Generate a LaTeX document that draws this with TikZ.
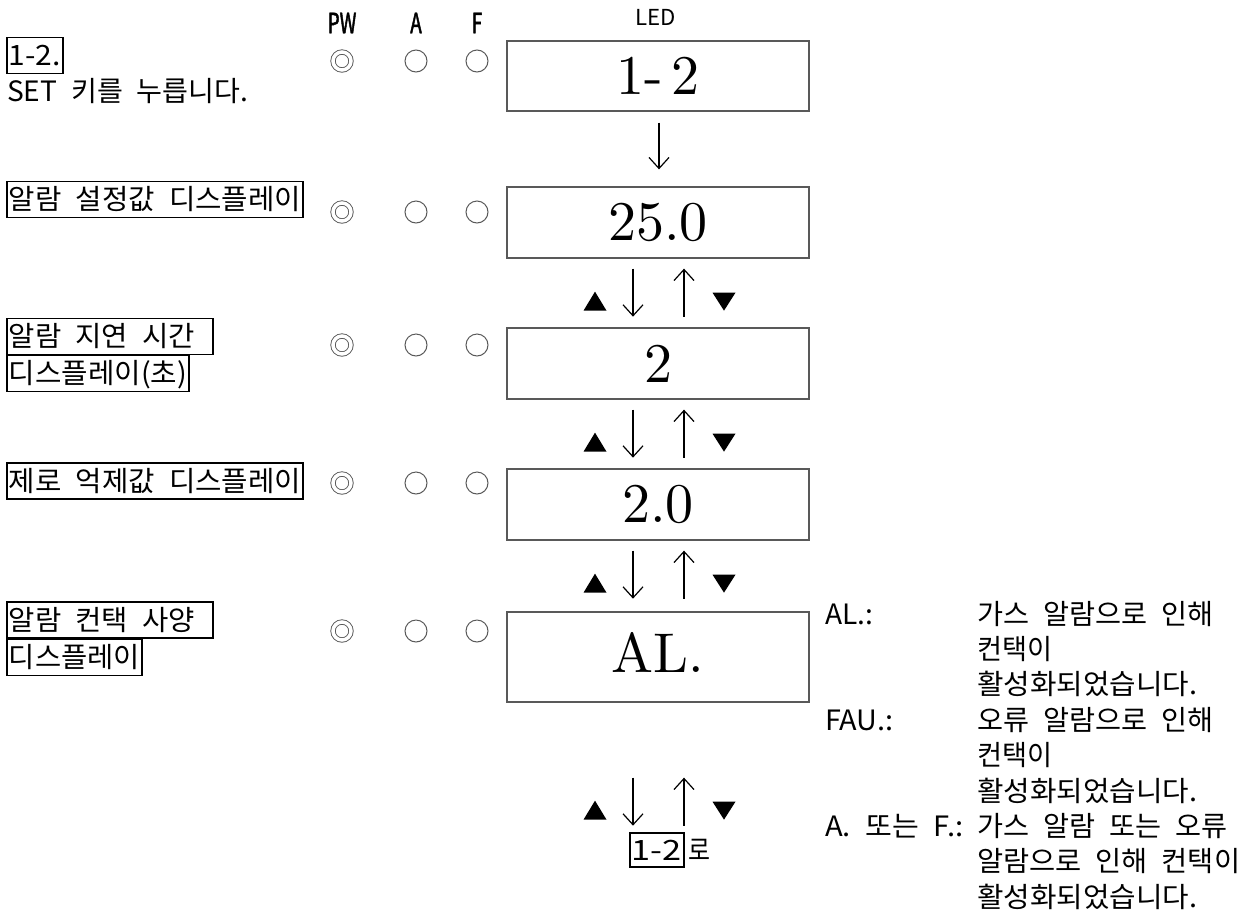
\documentclass[tikz,border=0pt]{standalone}
\usepackage{fontspec}
\usepackage{graphicx}
\usetikzlibrary{arrows.meta,calc}
\newfontfamily\krf[WordSpace=2.2]{Noto Sans CJK KR}
\newfontfamily\hdrf[FakeStretch=0.68,FakeBold=1.5]{Noto Sans CJK KR}
\newfontfamily\ledf[FakeStretch=1.01]{Noto Sans CJK KR}
\newfontfamily\lmten{lmroman10-regular.otf}
\newcommand\fitto[2]{\resizebox{#1pt}{\height}{#2}}
\newcommand\ArrPair[2]{%
  \coordinate (#1-a) at ($(#1.south)+(0,#2)$);
  \draw[arr] ($(#1-a)+(-25,0)$) -- ($(#1-a)+(-25,48)$);
  \draw[arr] ($(#1-a)+(26,48)$) -- ($(#1-a)+(26,0)$);
  \fill ($(#1-a)+(-74.5,42)$) -- ($(#1-a)+(-51.5,42)$) -- ($(#1-a)+(-63,23)$) -- cycle;
  \fill ($(#1-a)+(54.5,24)$) -- ($(#1-a)+(77.5,24)$) -- ($(#1-a)+(66,42)$) -- cycle;
}
\begin{document}
\begin{tikzpicture}[x=1pt,y=-1pt,
  txt/.style={font=\krf\fontsize{28}{35}\selectfont, inner sep=0pt, anchor=west, text height=24pt, text depth=4pt},
  lbl/.style={txt, draw=black, line width=1.8pt, inner xsep=2pt, inner ysep=3pt, minimum height=36pt},
  led/.style={draw=black!65, line width=1.3pt, minimum width=302pt, inner sep=0pt, font=\lmten\fontsize{56}{60}\selectfont},
  pwc/.style={circle, draw=black!65, line width=0.9pt, double, double distance=3.5pt, minimum size=18pt, inner sep=0pt},
  lmp/.style={circle, draw=black!65, line width=1pt, minimum size=22pt, inner sep=0pt},
  hdr/.style={font=\hdrf\fontsize{28}{30}\selectfont, inner sep=0pt},
  arr/.style={line width=1.2pt, -{Straight Barb[length=11pt,width=20pt,line width=1.2pt]}},
]
\useasboundingbox (0,0) rectangle (1253,911);

% header
\node[hdr] (hpw) at (342,23) {PW};
\node[hdr] (ha) at (416,23) {A};
\node[hdr] (hf) at (477,23) {F};
\node[font=\ledf\fontsize{22}{24}\selectfont, inner sep=0pt] (hled) at (656,17) {LED};

% LED boxes
\node[led, minimum height=70pt] (b1) at (658,76) {{\spaceskip=0.15em 1- 2}};
\node[led, minimum height=71pt] (b2) at (658,222.5) {25.0};
\node[led, minimum height=71pt] (b3) at (658,363.5) {2};
\node[led, minimum height=71pt] (b4) at (658,504.5) {2.0};
\node[led, minimum height=90pt] (b5) at (658,657) {\raisebox{10pt}{AL.}};

% arrows
\draw[arr] ($(b1.south)+(1,11)$) -- ($(b2.north)+(1,-17)$);
\ArrPair{b2}{10}
\ArrPair{b3}{10}
\ArrPair{b4}{10}
\ArrPair{b5}{75}

% lamps
\foreach \r/\yy in {1/61,2/212,3/345,4/483,5/631}{
  \node[pwc] (pw\r) at (342,\yy) {};
  \node[lmp] (a\r) at (416,\yy) {};
  \node[lmp] (f\r) at (477,\yy) {};
}

% left labels
\node[lbl] (l1) at (6,55.5) {\fitto{52}{1-2.}};
\node[txt] (s1) at (7,91) {\fitto{241}{SET 키를 누릅니다.}};
\node[lbl] (l2) at (6,199.5) {\fitto{292}{알람 설정값 디스플레이}};
\node[lbl] (l3a) at (6,336.5) {\fitto{186}{알람 지연 시간}\kern16pt\relax};
\node[lbl] (l3b) at (6,373.5) {\fitto{178}{디스플레이(초)}};
\node[lbl] (l4) at (6,481) {\fitto{292}{제로 억제값 디스플레이}};
\node[lbl] (l5a) at (6,620) {\fitto{186}{알람 컨택 사양}\kern16pt\relax};
\node[lbl] (l5b) at (6,657.5) {\fitto{131}{디스플레이}};

% bottom return
\node[lbl, line width=1.5pt, minimum height=34pt] (g) at (629,850) {\fitto{50}{1-2}};
\node[txt] (gro) at ($(g.east)+(4,0)$) {\fitto{22}{로}};

% right description
\node[txt] (t1) at (825,614) {\fitto{48}{AL.:}};
\node[txt] (d1) at (977,614) {\fitto{236}{가스 알람으로 인해}};
\node[txt] (d2) at (977,649.4) {\fitto{75}{컨택이}};
\node[txt] (d3) at (977,684.8) {\fitto{220}{활성화되었습니다.}};
\node[txt] (t2) at (825,720.2) {\fitto{68}{FAU.:}};
\node[txt] (d4) at (977,720.2) {\fitto{236}{오류 알람으로 인해}};
\node[txt] (d5) at (977,755.6) {\fitto{75}{컨택이}};
\node[txt] (d6) at (977,791) {\fitto{220}{활성화되었습니다.}};
\node[txt] (t3) at (825,826.4) {\fitto{138}{A. 또는 F.:}};
\node[txt] (d7) at (977,826.4) {\fitto{250}{가스 알람 또는 오류}};
\node[txt] (d8) at (977,861.8) {\fitto{263}{알람으로 인해 컨택이}};
\node[txt] (d9) at (977,897.2) {\fitto{220}{활성화되었습니다.}};
\end{tikzpicture}
\end{document}
